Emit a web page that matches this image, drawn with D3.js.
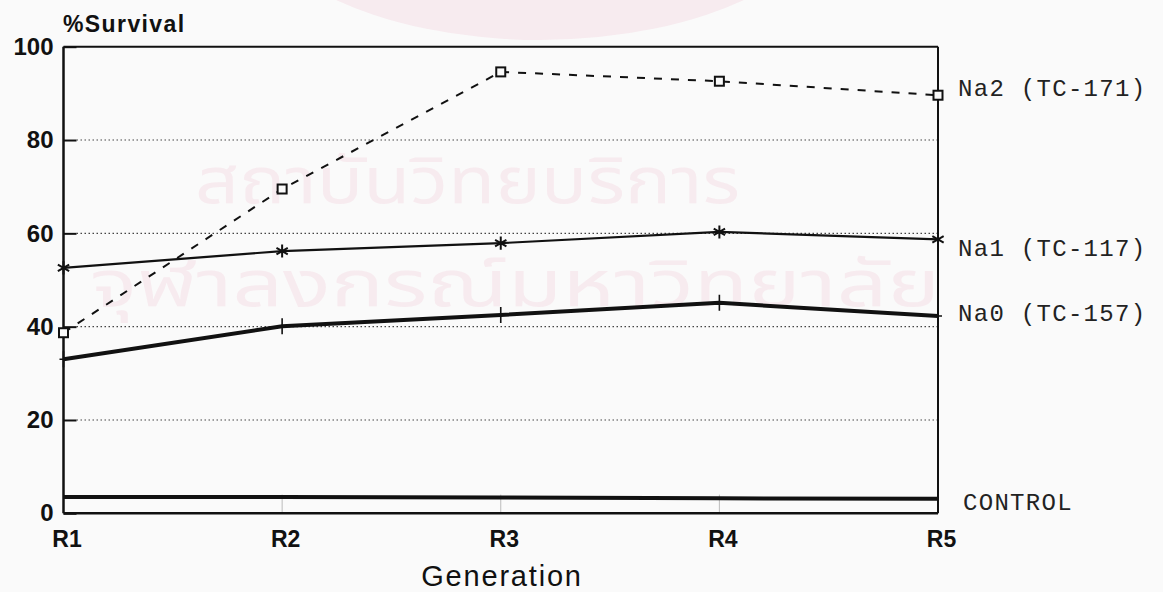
<!DOCTYPE html>
<html>
<head>
<meta charset="utf-8">
<script src="https://cdn.jsdelivr.net/npm/d3@7"></script>
<style>
  html, body { margin: 0; padding: 0; background: #fafafa; }
  svg { display: block; }
</style>
</head>
<body>
<svg id="chart" width="1163" height="592"></svg>
<script>
// Generations on the x axis
const generations = ["R1", "R2", "R3", "R4", "R5"];

// % survival per generation for each line
const na2Values = [38.7, 69.5, 94.6, 92.6, 89.6];
const na1Values = [52.6, 56.2, 57.9, 60.3, 58.7];
const na0Values = [33.0, 40.1, 42.5, 45.1, 42.3];
const controlValues = [3.5, 3.5, 3.4, 3.2, 3.1];

// Series labels shown at the right end of each line
const seriesLabels = ["Na2 (TC-171)", "Na1 (TC-117)", "Na0 (TC-157)", "CONTROL"];

// Y axis ticks
const yTicks = [0, 20, 40, 60, 80, 100];

// Background watermark lines
const watermarkLines = ["สถาบันวิทยบริการ", "จุฬาลงกรณ์มหาวิทยาลัย"];

const svg = d3.select("#chart");
const plotLeft = 63.5, plotRight = 938, plotTop = 46.7, plotBottom = 513.3;

const x = d3.scalePoint().domain(generations).range([plotLeft, plotRight]);
const y = d3.scaleLinear().domain([0, 100]).range([plotBottom, plotTop]);

// faint watermark behind the plot
const wm = svg.append("g").attr("fill", "#f7ebef");
wm.append("ellipse").attr("cx", 540).attr("cy", -110).attr("rx", 300).attr("ry", 150);
const wmFont = "'Noto Sans Thai', 'Noto Sans', 'DejaVu Sans', sans-serif";
wm.append("text").attr("x", 195).attr("y", 203)
  .attr("font-family", wmFont).attr("font-size", 64)
  .attr("textLength", 545).attr("lengthAdjust", "spacingAndGlyphs")
  .text(watermarkLines[0]);
wm.append("text").attr("x", 90).attr("y", 306)
  .attr("font-family", wmFont).attr("font-size", 64)
  .attr("textLength", 850).attr("lengthAdjust", "spacingAndGlyphs")
  .text(watermarkLines[1]);

// dotted gridlines
svg.append("g").selectAll("line")
  .data(yTicks.filter(d => d > 0 && d < 100))
  .join("line")
  .attr("x1", plotLeft + 13).attr("x2", plotRight)
  .attr("y1", d => y(d)).attr("y2", d => y(d))
  .attr("stroke", "#444").attr("stroke-width", 1.2)
  .attr("stroke-dasharray", "1.5,2.5");

// faint generation ticks along the base
svg.append("g").selectAll("line")
  .data(generations.slice(1, -1))
  .join("line")
  .attr("x1", d => x(d)).attr("x2", d => x(d))
  .attr("y1", y(0)).attr("y2", y(4))
  .attr("stroke", "#bbb").attr("stroke-width", 1);

// left axis with inward ticks
const yAxis = d3.axisLeft(y).tickValues(yTicks).tickSize(-13).tickPadding(22);
const gy = svg.append("g").attr("transform", `translate(${plotLeft},0)`).call(yAxis);
gy.select(".domain").remove();
gy.selectAll(".tick line").attr("stroke", "#111").attr("stroke-width", 2);
gy.selectAll(".tick text")
  .attr("x", -10).attr("fill", "#111")
  .attr("font-family", "'Liberation Sans', Arial, sans-serif")
  .attr("font-weight", "bold").attr("font-size", 24);

// frame
const frame = svg.append("g").attr("stroke", "#111").attr("fill", "none");
frame.append("line").attr("x1", plotLeft).attr("x2", plotLeft).attr("y1", plotTop).attr("y2", plotBottom).attr("stroke-width", 2.5);
frame.append("line").attr("x1", plotLeft).attr("x2", plotRight).attr("y1", plotTop).attr("y2", plotTop).attr("stroke-width", 2);
frame.append("line").attr("x1", plotRight).attr("x2", plotRight).attr("y1", plotTop).attr("y2", plotBottom).attr("stroke-width", 2);
frame.append("line").attr("x1", plotLeft).attr("x2", plotRight).attr("y1", plotBottom).attr("y2", plotBottom).attr("stroke-width", 2.5);

// bottom axis labels
const xAxis = d3.axisBottom(x).tickSize(0).tickPadding(17);
const gx = svg.append("g").attr("transform", `translate(3,${plotBottom})`).call(xAxis);
gx.select(".domain").remove();
gx.selectAll(".tick text").attr("fill", "#111")
  .attr("font-family", "'Liberation Sans', Arial, sans-serif")
  .attr("font-weight", "bold").attr("font-size", 23);

// axis titles
svg.append("text").attr("x", 63).attr("y", 32).attr("fill", "#111")
  .attr("font-family", "'Liberation Sans', Arial, sans-serif")
  .attr("font-weight", "bold").attr("font-size", 23).attr("letter-spacing", 1.4)
  .text("%Survival");
svg.append("text").attr("x", 502).attr("y", 586).attr("text-anchor", "middle").attr("fill", "#111")
  .attr("font-family", "'Liberation Sans', Arial, sans-serif")
  .attr("font-size", 29).attr("letter-spacing", 1.8)
  .text("Generation");

const line = d3.line().x((d, i) => x(generations[i])).y(d => y(d));

const series = [
  { values: na2Values, width: 2, dash: "8,9", marker: "square", labelDy: 1 },
  { values: na1Values, width: 2.2, dash: null, marker: "asterisk", labelDy: 17 },
  { values: na0Values, width: 4, dash: null, marker: "plus", labelDy: 5 },
  { values: controlValues, width: 4, dash: null, marker: null, labelDy: 11 }
];

series.forEach((s, k) => {
  svg.append("path").datum(s.values)
    .attr("d", line).attr("fill", "none")
    .attr("stroke", "#111").attr("stroke-width", s.width)
    .attr("stroke-dasharray", s.dash);

  const pts = svg.append("g");
  if (s.marker === "square") {
    pts.selectAll("rect").data(s.values).join("rect")
      .attr("x", (d, i) => x(generations[i]) - 4.5).attr("y", d => y(d) - 4.5)
      .attr("width", 9).attr("height", 9)
      .attr("fill", "#fafafa").attr("stroke", "#111").attr("stroke-width", 2);
  } else if (s.marker === "asterisk") {
    pts.selectAll("path").data(s.values).join("path")
      .attr("transform", (d, i) => `translate(${x(generations[i])},${y(d)})`)
      .attr("d", d3.symbol(d3.symbolAsterisk, 120))
      .attr("fill", "none").attr("stroke", "#111").attr("stroke-width", 2);
  } else if (s.marker === "plus") {
    pts.selectAll("path").data(s.values).join("path")
      .attr("transform", (d, i) => `translate(${x(generations[i])},${y(d)})`)
      .attr("d", "M0,-8V8M-4,0H4")
      .attr("fill", "none").attr("stroke", "#111").attr("stroke-width", 1.6);
  }

  const last = s.values[s.values.length - 1];
  svg.append("text")
    .attr("x", k === 3 ? plotRight + 25 : plotRight + 20)
    .attr("y", y(last) + s.labelDy)
    .attr("fill", "#222")
    .attr("font-family", "'Liberation Mono', 'Courier New', monospace")
    .attr("font-size", 24).attr("letter-spacing", 1.3)
    .text(seriesLabels[k]);
});
</script>
</body>
</html>
